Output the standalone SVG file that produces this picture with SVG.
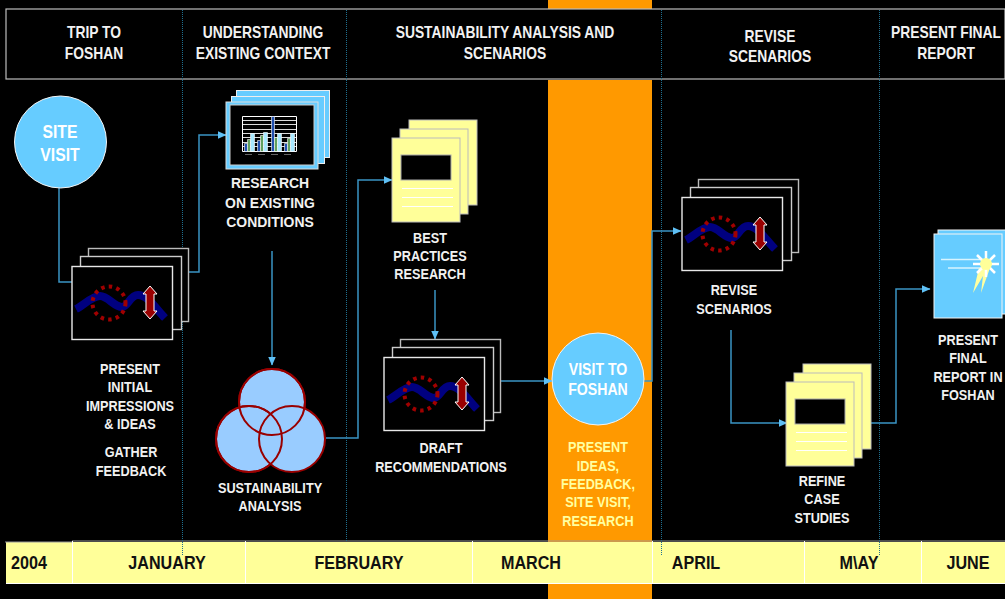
<svg xmlns="http://www.w3.org/2000/svg" xmlns:xlink="http://www.w3.org/1999/xlink" width="1005" height="599" viewBox="0 0 1005 599">
<style>
text{font-family:"Liberation Sans",Arial,sans-serif;font-weight:bold;text-anchor:middle;transform-box:fill-box;transform-origin:center}
.h{font-size:16.500px;fill:#f2f2f2;transform:scaleX(.84)}
.l{font-size:15.500px;fill:#f2f2f2;transform:scaleX(.82)}
.r{font-size:15.500px;fill:#f2f2f2;transform:scaleX(.9)}
.o{font-size:15.500px;fill:#ffffa0;transform:scaleX(.82)}
.c{font-size:19px;fill:#fff;transform:scaleX(.83)}
.c2{font-size:17px;fill:#fff;transform:scaleX(.83)}
.m{font-size:19px;fill:#111;transform:scaleX(.85)}
.con{fill:none;stroke:#3a94c4;stroke-width:1.500}
.div{stroke:#1f6f8f;stroke-width:1;stroke-dasharray:1 1;fill:none}
.card{fill:#000;stroke-width:1.400}
.yel{fill:#ffff99;stroke:#bbb;stroke-width:1}
.blu{fill:#66ccff;stroke:#f4f4f4;stroke-width:1}
.venn{fill:#99ccff;stroke:#990000;stroke-width:2}
.venn2{fill:none;stroke:#990000;stroke-width:2}
</style>
<defs>
<marker id="ah" markerWidth="10" markerHeight="8" refX="8.500" refY="4" orient="auto" markerUnits="userSpaceOnUse"><path d="M0,0L9,4L0,8Z" fill="#5fc0f5"/></marker>
<g id="scen">
<rect class="card" x="16.500" y="-0.500" width="100" height="73" stroke="#bbb"/>
<rect class="card" x="8.500" y="7.500" width="101" height="73" stroke="#ccc"/>
<rect class="card" x="0" y="17.500" width="100.500" height="73" stroke="#e8e8e8"/>
<path d="M4,60C12,56 20,47 28,47C36,47 42,58 50,58C56,58 58,46 66,46C76,46 84,60 93,69" fill="none" stroke="#000080" stroke-width="8"/>
<circle cx="37" cy="54" r="16.500" fill="none" stroke="#a00000" stroke-width="4" stroke-dasharray="3.500 4.200"/>
<path d="M78,37L85,45H82V62H85L78,70L71,62H74V45H71Z" fill="#990000" stroke="#fff" stroke-width="1"/>
</g>
<g id="doc">
<rect class="yel" x="17" y="0" width="68" height="85"/>
<rect class="yel" x="8" y="9" width="68" height="85"/>
<rect class="yel" x="0" y="18" width="68" height="84"/>
<rect x="9" y="35" width="50" height="25" fill="#000" stroke="#aaa"/>
<path d="M10,68.500H61M10,77.500H61M10,86.500H61" stroke="#fff" stroke-width="1"/>
</g>
</defs>
<rect width="1005" height="599" fill="#000"/>
<rect x="548" y="0" width="104" height="9" fill="#ff9900"/>
<rect x="548" y="80" width="104" height="519" fill="#ff9900"/>
<rect x="6" y="9" width="999" height="70" fill="#000" stroke="#bbb" stroke-width="1.200"/>
<g id="timeline">
<rect x="6" y="542" width="999" height="41" fill="#ffff99"/>
<path d="M72,541H1005M5,542H72" stroke="#999" fill="none"/>
<path d="M72.500,541V583M245.500,541V583M472.500,541V583M652.500,541V583M804.500,541V583M921.500,541V583M6,583.500H1005" stroke="#fff" fill="none"/>
</g>
<g id="dividers">
<path class="div" d="M182.500,10V555M346.500,10V541M661.500,10V556M879.500,10V556"/>
</g>
<g id="months">
<text class="m" x="29" y="569">2004</text>
<text class="m" x="167" y="569">JANUARY</text>
<text class="m" x="359" y="569">FEBRUARY</text>
<text class="m" x="531" y="569">MARCH</text>
<text class="m" x="696" y="569">APRIL</text>
<text class="m" x="859" y="569">M\AY</text>
<text class="m" x="968" y="569">JUNE</text>
</g>
<g id="headers">
<text class="h" x="94" y="38">TRIP TO</text><text class="h" x="94" y="59">FOSHAN</text>
<text class="h" x="263" y="38">UNDERSTANDING</text><text class="h" x="263" y="59">EXISTING CONTEXT</text>
<text class="h" x="505" y="38">SUSTAINABILITY ANALYSIS AND</text><text class="h" x="505" y="59">SCENARIOS</text>
<text class="h" x="770" y="42">REVISE</text><text class="h" x="770" y="62">SCENARIOS</text>
<text class="h" x="946" y="38">PRESENT FINAL</text><text class="h" x="946" y="59">REPORT</text>
</g>
<g id="connectors">
<path class="con" d="M59,188V282H72"/>
<path class="con" marker-end="url(#ah)" d="M189,272H199V135H226"/>
<path class="con" marker-end="url(#ah)" d="M272,251V365"/>
<path class="con" marker-end="url(#ah)" d="M326,438H358V180H392"/>
<path class="con" marker-end="url(#ah)" d="M435,290V339"/>
<path class="con" marker-end="url(#ah)" d="M501,381H552"/>
<path class="con" marker-end="url(#ah)" d="M644,381H652V231H681"/>
<path class="con" marker-end="url(#ah)" d="M731,330V423H787"/>
<path class="con" marker-end="url(#ah)" d="M871,423H896V289H930"/>
</g>
<g id="site-visit">
<circle class="blu" cx="60.500" cy="142" r="46"/>
<text class="c" x="60" y="138">SITE</text><text class="c" x="60" y="161">VISIT</text>
</g>
<g id="impressions">
<use xlink:href="#scen" href="#scen" x="72" y="249"/>
<text class="l" x="130" y="374">PRESENT</text><text class="l" x="130" y="392">INITIAL</text><text class="l" x="130" y="411">IMPRESSIONS</text><text class="l" x="130" y="429">&amp; IDEAS</text>
<text class="l" x="131" y="457">GATHER</text><text class="l" x="131" y="476">FEEDBACK</text>
</g>
<g id="research">
<rect x="236.500" y="90.500" width="93" height="67" fill="#66ccff" stroke="#eee"/>
<rect x="231.500" y="96.500" width="93" height="67" fill="#66ccff" stroke="#eee"/>
<rect x="226" y="102" width="92" height="67" fill="#66ccff" stroke="#ddd"/>
<rect x="230" y="105" width="84" height="60" fill="#000" stroke="#ccc"/>
<path d="M243,120.500H296M243,124.500H296M243,129.500H296M243,133.500H296M243,137.500H296M243,142.500H296M243,146.500H296" stroke="#ddd" stroke-width="1"/>
<path d="M242.500,116.500V151.500H296.500V116.500H242.500" fill="none" stroke="#fff"/>
<path d="M244.500,143.500h3v8h-3zM257.500,140.500h3v11h-3zM271.500,116.500h3v35h-3zM284.500,143.500h3v8h-3z" fill="#1f4fb0" stroke="#fff" stroke-width=".6"/>
<path d="M247.500,139.500h3v12h-3zM260.500,135.500h3v16h-3zM274.500,137.500h3v14h-3zM287.500,138.500h3v13h-3z" fill="#60a060" stroke="#fff" stroke-width=".6"/>
<path d="M250.500,133.500h4v18h-4zM263.500,132.500h4v19h-4zM277.500,133.500h4v18h-4zM290.500,133.500h4v18h-4z" fill="#a8e8ff" stroke="#fff" stroke-width=".6"/>
<path d="M245,154.500h7M258,154.500h7M271,154.500h7M284,154.500h7" stroke="#666" stroke-width="1"/>
<text class="r" x="270" y="188">RESEARCH</text><text class="r" x="270" y="208">ON EXISTING</text><text class="r" x="270" y="227">CONDITIONS</text>
</g>
<g id="sustainability">
<circle class="venn" cx="272" cy="402" r="33"/>
<circle class="venn" cx="249" cy="439" r="33"/>
<circle class="venn" cx="292" cy="439" r="33"/>
<circle class="venn2" cx="272" cy="402" r="33"/>
<circle class="venn2" cx="249" cy="439" r="33"/>
<text class="l" x="270" y="493">SUSTAINABILITY</text><text class="l" x="270" y="511">ANALYSIS</text>
</g>
<g id="best-practices">
<use xlink:href="#doc" href="#doc" x="392" y="120"/>
<text class="l" x="430" y="243">BEST</text><text class="l" x="430" y="261">PRACTICES</text><text class="l" x="430" y="279">RESEARCH</text>
</g>
<g id="draft">
<use xlink:href="#scen" href="#scen" x="384" y="340"/>
<text class="l" x="441" y="453">DRAFT</text><text class="l" x="441" y="472">RECOMMENDATIONS</text>
</g>
<g id="visit-foshan">
<circle class="blu" cx="598" cy="379" r="46"/>
<text class="c2" x="598" y="375">VISIT TO</text><text class="c2" x="598" y="395">FOSHAN</text>
<text class="o" x="598" y="452">PRESENT</text><text class="o" x="598" y="471">IDEAS,</text><text class="o" x="598" y="489">FEEDBACK,</text><text class="o" x="598" y="507">SITE VISIT,</text><text class="o" x="598" y="526">RESEARCH</text>
</g>
<g id="revise">
<use xlink:href="#scen" href="#scen" x="682" y="180"/>
<text class="l" x="734" y="295">REVISE</text><text class="l" x="734" y="314">SCENARIOS</text>
</g>
<g id="refine">
<use xlink:href="#doc" href="#doc" x="786" y="364"/>
<text class="l" x="822" y="486">REFINE</text><text class="l" x="822" y="504">CASE</text><text class="l" x="822" y="523">STUDIES</text>
</g>
<g id="final">
<rect class="blu" x="938" y="230" width="68" height="84"/>
<rect class="blu" x="934" y="234" width="68" height="84"/>
<path d="M941,259.500H986M948,268H982" stroke="#d8f4ff" stroke-width="1.500"/>
<path d="M973,293L979,268H990L981,293L983,276Z" fill="#ffffa0"/>
<path d="M986,251V277M973,264H999M977,255L995,273M995,255L977,273" stroke="#fff" stroke-width="2.500"/>
<circle cx="986" cy="264" r="6" fill="#ffff99"/>
<text class="l" x="968" y="345">PRESENT</text><text class="l" x="968" y="363">FINAL</text><text class="l" x="968" y="382">REPORT IN</text><text class="l" x="968" y="400">FOSHAN</text>
</g>
</svg>
